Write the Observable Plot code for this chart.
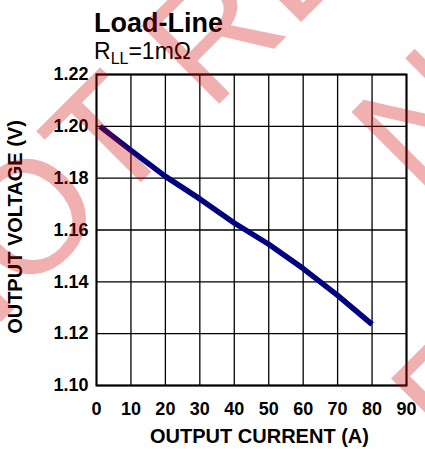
<!DOCTYPE html>
<html><head><meta charset="utf-8">
<script src="https://cdn.jsdelivr.net/npm/d3@7"></script>
<script src="https://cdn.jsdelivr.net/npm/@observablehq/plot@0.6"></script>
<style>
body{margin:0;background:#fff;font-family:"Liberation Sans",Arial,sans-serif;}
#wrap{position:relative;width:425px;height:449px;overflow:hidden;background:#fff;}
#title{position:absolute;left:94px;top:10px;font-size:27px;font-weight:bold;line-height:27px;white-space:nowrap;}
#subtitle{position:absolute;left:94px;top:40px;font-size:23px;line-height:23px;white-space:nowrap;}
#subtitle .sub{font-size:16px;vertical-align:-5px;}
#chart{position:absolute;left:0;top:64px;}
#wm{position:absolute;left:0;top:0;pointer-events:none;}
</style></head>
<body>
<div id="wrap">
  <div id="title"></div>
  <div id="subtitle"></div>
  <div id="chart"></div>
  <svg id="wm" width="425" height="449"></svg>
</div>
<script>
// ---- data ----
const current = [1, 10, 20, 30, 40, 50, 60, 70, 80];
const voltage = [1.200, 1.1907, 1.1807, 1.172, 1.1627, 1.1545, 1.1451, 1.1348, 1.1236];
const xTicks = [0, 10, 20, 30, 40, 50, 60, 70, 80, 90];
const yTicks = [1.10, 1.12, 1.14, 1.16, 1.18, 1.20, 1.22];
const titleText = "Load-Line";
const subtitleMain = "R";
const subtitleSub = "LL";
const subtitleRest = "=1mΩ";
const xLabel = "OUTPUT CURRENT (A)";
const yLabel = "OUTPUT VOLTAGE (V)";
const watermarkLines = ["NOT RECOMMENDED FOR NEW DESIGNS", "NO RECOMMENDED REPLACEMENT", "POSSIBLE SUBSTITUTE PRODUCT"];

const data = current.map((c, i) => ({current: c, voltage: voltage[i]}));

document.getElementById("title").textContent = titleText;
const st = document.getElementById("subtitle");
st.append(subtitleMain);
const sub = document.createElement("span"); sub.className = "sub"; sub.textContent = subtitleSub; st.append(sub);
st.append(subtitleRest);

const font = "Liberation Sans, Arial, sans-serif";
const chart = Plot.plot({
  width: 425,
  height: 385,
  marginTop: 10,
  marginBottom: 64,
  marginLeft: 96,
  marginRight: 19,
  style: {fontFamily: font, background: "transparent", color: "#000"},
  x: {domain: [0, 90]},
  y: {domain: [1.10, 1.22]},
  marks: [
    Plot.gridX(xTicks, {stroke: "#000", strokeOpacity: 1, strokeWidth: 1.3}),
    Plot.gridY(yTicks, {stroke: "#000", strokeOpacity: 1, strokeWidth: 1.3}),
    Plot.frame({stroke: "#000", strokeWidth: 2}),
    Plot.axisX({ticks: xTicks, tickSize: 0, tickPadding: 17, fontSize: 18, fontWeight: "bold", label: null}),
    Plot.axisY({ticks: yTicks, tickSize: 0, tickPadding: 8, tickFormat: d3.format(".2f"), fontSize: 18, fontWeight: "bold", label: null}),
    Plot.text([xLabel], {frameAnchor: "bottom", dy: 51, dx: 8, fontSize: 20, fontWeight: "bold", lineAnchor: "middle", textAnchor: "middle", fill: "#000"}),
    Plot.text([yLabel], {frameAnchor: "left", dx: -81, dy: -3, rotate: -90, fontSize: 20, fontWeight: "bold", lineAnchor: "middle", textAnchor: "middle", fill: "#000"}),
    Plot.line(data, {x: "current", y: "voltage", stroke: "#000080", strokeWidth: 5.5, strokeLinecap: "butt", strokeLinejoin: "round"})
  ]
});
document.getElementById("chart").append(chart);

// ---- watermark overlay (decorative, rotated text) ----
// c: baseline offset (x+y), idx: anchor character, s: target position of that char centre along the baseline
const wmSize = 160;
const wmPlacement = [
  {c: 323, idx: 1, s: -133},
  {c: 619, idx: 0, s: 214},
  {c: 925, idx: 0, s: 49}
];
const ctx = document.createElement("canvas").getContext("2d");
ctx.font = `${wmSize}px "Liberation Sans", Arial, sans-serif`;
const wm = d3.select("#wm");
watermarkLines.forEach((t, i) => {
  const {c, idx, s} = wmPlacement[i];
  const a = ctx.measureText(t.slice(0, idx)).width;
  const b = ctx.measureText(t.slice(0, idx + 1)).width;
  const s0 = s - (a + b) / 2;
  const d = s0 * Math.SQRT2;
  const bx = (c + d) / 2, by = (c - d) / 2;
  wm.append("text")
    .attr("font-family", font)
    .attr("font-size", wmSize)
    .attr("fill", "rgb(210,0,0)")
    .attr("fill-opacity", 0.31)
    .attr("transform", `translate(${bx},${by}) rotate(-45)`)
    .text(t);
});
</script>
</body></html>
